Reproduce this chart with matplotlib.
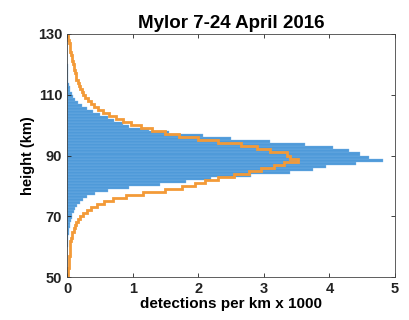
import numpy as np
import matplotlib
matplotlib.use('Agg')
import matplotlib.pyplot as plt

plt.rcParams['font.family'] = ['Liberation Sans', 'DejaVu Sans']

# bin edges (km) and counts, 1 km bins from 50 to 130
edges = np.arange(50, 131, 1)

# blue histogram: detections per km x 1000
blue = [0, 0, 0, 0, 0, 0, 0, 0, 0, 0,
        0.01, 0.01, 0.02, 0.02, 0.03, 0.03, 0.04, 0.05, 0.06, 0.07,
        0.08, 0.10, 0.12, 0.15, 0.19, 0.24, 0.31, 0.42, 0.62, 0.95,
        1.42, 1.82, 2.20, 2.80, 3.40, 3.75, 3.95, 4.40, 4.82, 4.60,
        4.47, 4.30, 4.05, 3.63, 3.10, 2.50, 2.07, 1.55, 1.25, 0.95,
        0.85, 0.72, 0.62, 0.50, 0.40, 0.30, 0.22, 0.17, 0.12, 0.09,
        0.07, 0.05, 0.04, 0.03, 0.02, 0.02, 0.01, 0.01, 0.01, 0.01,
        0, 0, 0, 0, 0, 0, 0, 0, 0, 0]

# orange outline
orange = [0.02, 0.02, 0.02, 0.03, 0.03, 0.03, 0.03, 0.04, 0.04, 0.04,
          0.05, 0.05, 0.06, 0.07, 0.08, 0.10, 0.12, 0.14, 0.17, 0.20,
          0.24, 0.30, 0.36, 0.45, 0.56, 0.70, 0.90, 1.15, 1.50, 1.75,
          1.95, 2.10, 2.30, 2.55, 2.78, 2.95, 3.15, 3.30, 3.52, 3.40,
          3.35, 3.10, 2.90, 2.65, 2.30, 2.00, 1.70, 1.50, 1.30, 1.12,
          0.98, 0.85, 0.74, 0.64, 0.55, 0.47, 0.41, 0.36, 0.32, 0.28,
          0.25, 0.22, 0.20, 0.18, 0.16, 0.14, 0.13, 0.12, 0.11, 0.10,
          0.09, 0.08, 0.07, 0.06, 0.05, 0.045, 0.04, 0.03, 0.02, 0.01]

fig = plt.figure(figsize=(4.09, 3.2), dpi=100)
ax = fig.add_axes([0.164, 0.134, 0.802, 0.76])

centers = edges[:-1] + 0.5
ax.barh(centers, blue, height=1.0, color='#4f9ad9', edgecolor='#7db6e8', linewidth=0.25)
ax.stairs(orange, edges, orientation='horizontal', color='#f39a38', linewidth=2)

ax.set_xlim(0, 5)
ax.set_ylim(50, 130)
ax.set_xticks(range(0, 6))
ax.set_yticks([50, 70, 90, 110, 130])
ax.tick_params(direction='in', top=True, right=True, length=3, width=0.6,
               colors='#222222', labelsize=10.5)
for lab in ax.get_xticklabels() + ax.get_yticklabels():
    lab.set_fontweight('bold')
for s in ax.spines.values():
    s.set_color('#444444')
    s.set_linewidth(0.6)

ax.set_xlabel('detections per km x 1000', fontsize=11, fontweight='bold', labelpad=1)
ax.set_ylabel('height (km)', fontsize=10.5, fontweight='bold', labelpad=2)
ax.set_title('Mylor 7-24 April 2016', fontsize=13.5, fontweight='bold', pad=4)

fig.savefig('out.png', dpi=100)
